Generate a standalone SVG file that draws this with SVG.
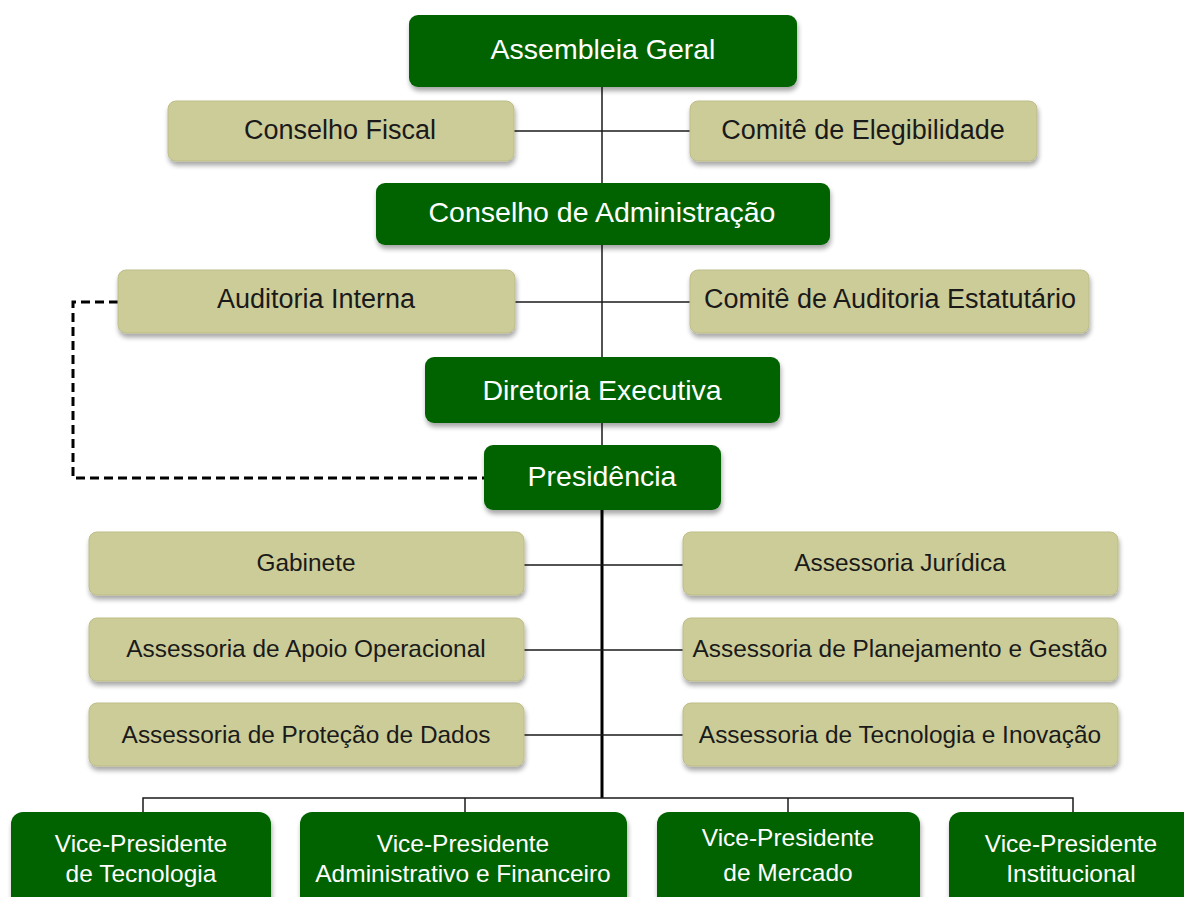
<svg xmlns="http://www.w3.org/2000/svg" width="1184" height="897" viewBox="0 0 1184 897">
<style>
.g{fill:#006400;filter:url(#sh)}
.b{fill:#cccc99;stroke:#bdbd88;stroke-width:1;filter:url(#sh)}
.tg{fill:#ffffff;font-family:"Liberation Sans",Arial,sans-serif;font-size:28.5px;text-anchor:middle}
.tb{fill:#1a1a1a;font-family:"Liberation Sans",Arial,sans-serif;font-size:27px;text-anchor:middle}
.ts{fill:#1a1a1a;font-family:"Liberation Sans",Arial,sans-serif;font-size:24.4px;text-anchor:middle}
.tv{fill:#ffffff;font-family:"Liberation Sans",Arial,sans-serif;font-size:24.5px;text-anchor:middle}
.c{stroke:#1a1a1a;stroke-width:1.5;fill:none}
</style>
<defs>
<filter id="sh" x="-10%" y="-20%" width="120%" height="150%">
<feGaussianBlur in="SourceAlpha" stdDeviation="2.5"/>
<feOffset dx="1" dy="4" result="o"/>
<feComponentTransfer><feFuncA type="linear" slope="0.35"/></feComponentTransfer>
<feMerge><feMergeNode/><feMergeNode in="SourceGraphic"/></feMerge>
</filter>
</defs>
<rect width="1184" height="897" fill="#ffffff"/>
<g id="connectors">
<line class="c" x1="602" y1="87" x2="602" y2="445"/>
<line class="c" x1="514" y1="131" x2="690" y2="131"/>
<line class="c" x1="515" y1="302" x2="690" y2="302"/>
<line x1="602" y1="510" x2="602" y2="798" stroke="#000" stroke-width="3"/>
<line class="c" x1="524" y1="565" x2="683" y2="565"/>
<line class="c" x1="524" y1="650" x2="683" y2="650"/>
<line class="c" x1="524" y1="735" x2="683" y2="735"/>
<path class="c" d="M143 812 V798 H1073 V812"/>
<line class="c" x1="465" y1="798" x2="465" y2="812"/>
<line class="c" x1="788" y1="798" x2="788" y2="812"/>
<path d="M118 302 H73 V478 H484" fill="none" stroke="#000" stroke-width="3" stroke-dasharray="9,5"/>
</g>
<g id="assembleia"><rect class="g" x="409" y="15" width="388" height="72" rx="9"/><text class="tg" x="603" y="59">Assembleia Geral</text></g>
<g id="conselho-fiscal"><rect class="b" x="168" y="101" width="346" height="60" rx="8"/><text class="tb" x="340" y="139">Conselho Fiscal</text></g>
<g id="comite-elegibilidade"><rect class="b" x="690" y="101" width="347" height="60" rx="8"/><text class="tb" x="863" y="139">Comitê de Elegibilidade</text></g>
<g id="conselho-admin"><rect class="g" x="376" y="183" width="454" height="62" rx="9"/><text class="tg" x="602" y="222">Conselho de Administração</text></g>
<g id="auditoria-interna"><rect class="b" x="118" y="270" width="397" height="63" rx="8"/><text class="tb" x="316" y="308">Auditoria Interna</text></g>
<g id="comite-auditoria"><rect class="b" x="690" y="270" width="399" height="63" rx="8"/><text class="tb" x="890" y="308">Comitê de Auditoria Estatutário</text></g>
<g id="diretoria"><rect class="g" x="425" y="357" width="355" height="66" rx="9"/><text class="tg" x="602" y="400">Diretoria Executiva</text></g>
<g id="presidencia"><rect class="g" x="484" y="445" width="237" height="65" rx="9"/><text class="tg" x="602" y="486">Presidência</text></g>
<g id="gabinete"><rect class="b" x="89" y="532" width="435" height="63" rx="8"/><text class="ts" x="306" y="571">Gabinete</text></g>
<g id="juridica"><rect class="b" x="683" y="532" width="435" height="63" rx="8"/><text class="ts" x="900" y="571">Assessoria Jurídica</text></g>
<g id="apoio"><rect class="b" x="89" y="618" width="435" height="63" rx="8"/><text class="ts" x="306" y="657">Assessoria de Apoio Operacional</text></g>
<g id="planejamento"><rect class="b" x="683" y="618" width="435" height="63" rx="8"/><text class="ts" x="900" y="657">Assessoria de Planejamento e Gestão</text></g>
<g id="protecao"><rect class="b" x="89" y="703" width="435" height="63" rx="8"/><text class="ts" x="306" y="743">Assessoria de Proteção de Dados</text></g>
<g id="tecnologia-inovacao"><rect class="b" x="683" y="703" width="435" height="63" rx="8"/><text class="ts" x="900" y="743">Assessoria de Tecnologia e Inovação</text></g>
<g id="vp-tecnologia"><rect class="g" x="11" y="812" width="260" height="100" rx="12"/><text class="tv" x="141" y="852">Vice-Presidente</text><text class="tv" x="141" y="882">de Tecnologia</text></g>
<g id="vp-adm"><rect class="g" x="300" y="812" width="327" height="100" rx="12"/><text class="tv" x="463" y="852">Vice-Presidente</text><text class="tv" x="463" y="882">Administrativo e Financeiro</text></g>
<g id="vp-mercado"><rect class="g" x="657" y="812" width="263" height="100" rx="12"/><text class="tv" x="788" y="846">Vice-Presidente</text><text class="tv" x="788" y="881">de Mercado</text></g>
<g id="vp-institucional"><rect class="g" x="949" y="812" width="250" height="100" rx="12"/><text class="tv" x="1071" y="852">Vice-Presidente</text><text class="tv" x="1071" y="882">Institucional</text></g>
</svg>
